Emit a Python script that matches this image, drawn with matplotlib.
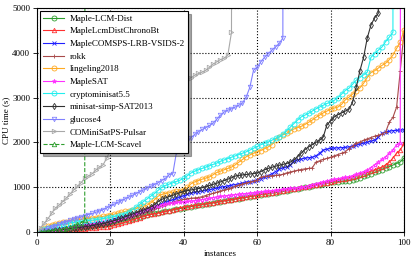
import numpy as np
import matplotlib
matplotlib.use("Agg")
import matplotlib.pyplot as plt

# CPU time (s) per solved instance, sorted; TIMEOUT marks the first unsolved one
TIMEOUT = 100000

lcm_dist = [
    8, 15, 22, 30, 38, 45, 52, 60, 70, 80,
    90, 100, 110, 120, 130, 140, 150, 160, 172, 190,
    205, 222, 240, 258, 275, 295, 315, 335, 358, 380,
    400, 418, 435, 450, 465, 480, 495, 510, 525, 540,
    555, 568, 580, 594, 608, 622, 636, 650, 665, 680,
    694, 708, 722, 735, 748, 762, 776, 790, 805, 820,
    832, 845, 858, 870, 882, 895, 908, 920, 935, 950,
    966, 982, 998, 1014, 1030, 1045, 1060, 1075, 1092, 1110,
    1118, 1126, 1134, 1142, 1150, 1165, 1185, 1210, 1240, 1270,
    1300, 1330, 1360, 1395, 1430, 1460, 1495, 1530, 1565, 1650,
]
chrono_bt = [
    3, 6, 10, 14, 18, 24, 30, 38, 46, 55,
    62, 70, 78, 86, 94, 100, 108, 115, 122, 130,
    150, 170, 195, 220, 245, 270, 295, 320, 350, 375,
    392, 405, 420, 440, 460, 480, 500, 520, 540, 555,
    570, 582, 594, 605, 618, 630, 643, 656, 670, 684,
    698, 712, 726, 740, 754, 768, 782, 796, 810, 825,
    838, 852, 866, 880, 894, 908, 922, 936, 950, 965,
    980, 995, 1010, 1025, 1040, 1055, 1070, 1085, 1100, 1115,
    1135, 1155, 1175, 1195, 1215, 1235, 1255, 1280, 1305, 1330,
    1360, 1390, 1420, 1450, 1500, 1560, 1650, 1760, 1830, 1980,
]
comsps_lrb = [
    10, 22, 35, 48, 60, 72, 84, 96, 108, 120,
    132, 145, 158, 170, 182, 195, 210, 228, 248, 270,
    292, 315, 338, 360, 385, 410, 435, 460, 490, 520,
    545, 570, 600, 630, 660, 690, 720, 750, 780, 810,
    840, 870, 885, 900, 915, 930, 945, 960, 980, 1000,
    1015, 1030, 1045, 1060, 1075, 1090, 1110, 1125, 1140, 1160,
    1190, 1220, 1260, 1300, 1350, 1400, 1430, 1450, 1500, 1580,
    1610, 1630, 1650, 1660, 1670, 1700, 1760, 1830, 1850, 1870,
    1875, 1880, 1885, 1890, 1900, 1920, 1940, 1960, 1985, 2010,
    2030, 2050, 2120, 2200, 2230, 2250, 2265, 2270, 2275, 2280,
]
rokk = [
    5, 12, 20, 28, 36, 44, 52, 60, 68, 76,
    85, 95, 105, 115, 125, 137, 150, 163, 178, 195,
    215, 238, 262, 286, 310, 335, 360, 390, 420, 450,
    480, 510, 545, 580, 610, 640, 665, 690, 712, 730,
    745, 755, 762, 770, 790, 815, 840, 865, 890, 915,
    940, 965, 990, 1020, 1050, 1075, 1095, 1115, 1135, 1160,
    1230, 1240, 1250, 1258, 1265, 1272, 1290, 1320, 1340, 1360,
    1380, 1395, 1410, 1420, 1430, 1560, 1590, 1620, 1645, 1670,
    1700, 1730, 1760, 1790, 1860, 1920, 1980, 2010, 2050, 2080,
    2110, 2140, 2160, 2190, 2230, 2450, 2560, 2790, 3600, 4450,
]
lingeling = [
    40, 90, 130, 160, 185, 205, 220, 235, 250, 262,
    272, 282, 292, 302, 312, 322, 335, 350, 365, 380,
    400, 420, 440, 460, 480, 500, 525, 550, 575, 600,
    650, 720, 800, 840, 860, 875, 890, 905, 920, 940,
    1000, 1080, 1120, 1150, 1180, 1205, 1230, 1280, 1330, 1360,
    1390, 1420, 1450, 1500, 1560, 1620, 1680, 1720, 1760, 1790,
    1820, 1860, 1900, 1950, 2060, 2130, 2170, 2200, 2260, 2300,
    2330, 2360, 2400, 2450, 2500, 2560, 2610, 2660, 2700, 2740,
    2770, 2790, 2850, 2950, 3010, 3080, 3150, 3220, 3320, 3450,
    3560, 3600, 3660, 3720, 3770, 3850, 3950, 4100, 4240, 4500,
]
maplesat = [
    10, 20, 30, 40, 50, 62, 75, 88, 100, 115,
    128, 142, 156, 170, 185, 200, 213, 225, 238, 250,
    270, 290, 315, 340, 365, 390, 420, 450, 480, 510,
    535, 560, 590, 610, 625, 640, 650, 660, 668, 675,
    682, 690, 700, 710, 725, 740, 755, 770, 782, 795,
    805, 815, 825, 835, 845, 852, 860, 868, 875, 885,
    895, 905, 915, 925, 935, 945, 955, 965, 972, 980,
    990, 1000, 1015, 1035, 1060, 1080, 1100, 1120, 1140, 1160,
    1175, 1190, 1205, 1220, 1235, 1260, 1290, 1320, 1350, 1380,
    1440, 1500, 1560, 1620, 1680, 1760, 1830, 1950, 1990, TIMEOUT,
]
cryptominisat = [
    30, 60, 90, 115, 140, 160, 175, 190, 205, 215,
    225, 235, 245, 255, 265, 275, 288, 300, 315, 330,
    345, 360, 380, 410, 450, 500, 560, 620, 680, 740,
    800, 860, 930, 1000, 1040, 1070, 1100, 1130, 1160, 1200,
    1260, 1320, 1360, 1390, 1420, 1450, 1480, 1510, 1540, 1580,
    1610, 1640, 1670, 1700, 1730, 1760, 1790, 1830, 1870, 1910,
    1950, 1980, 2010, 2050, 2090, 2120, 2180, 2260, 2340, 2420,
    2500, 2570, 2610, 2650, 2700, 2750, 2790, 2830, 2870, 2900,
    2940, 3000, 3080, 3160, 3210, 3300, 3390, 3450, 3510, 3570,
    3900, 3980, 4060, 4130, 4250, 4350, 4460, TIMEOUT,
]
minisat = [
    5, 12, 20, 28, 36, 45, 55, 65, 75, 85,
    95, 105, 118, 130, 145, 160, 175, 190, 208, 230,
    255, 280, 310, 340, 370, 400, 430, 460, 490, 520,
    560, 610, 680, 730, 760, 790, 820, 850, 880, 905,
    925, 940, 955, 970, 990, 1015, 1040, 1065, 1090, 1120,
    1150, 1180, 1210, 1250, 1265, 1275, 1285, 1295, 1305, 1320,
    1350, 1390, 1420, 1445, 1470, 1490, 1510, 1530, 1560, 1610,
    1680, 1760, 1840, 1900, 1950, 2000, 2050, 2120, 2390, 2480,
    2570, 2620, 2660, 2700, 2740, 2900, 3230, 3600, 3900, 4330,
    4620, 4780, 4880, TIMEOUT,
]
glucose = [
    20, 50, 80, 110, 140, 170, 200, 230, 260, 290,
    315, 340, 365, 390, 415, 440, 470, 500, 540, 580,
    620, 660, 700, 740, 780, 820, 860, 900, 940, 980,
    1020, 1060, 1100, 1150, 1200, 1280, 1300, 1780, 1850, 1960,
    2040, 2110, 2180, 2240, 2290, 2330, 2380, 2430, 2520, 2610,
    2680, 2720, 2750, 2790, 2830, 2880, 3010, 3230, 3610, 3680,
    3800, 3900, 3980, 4060, 4130, 4210, 4330, TIMEOUT,
]
pulsar = [
    100, 200, 300, 420, 535, 600, 680, 760, 850, 940,
    1020, 1100, 1200, 1250, 1300, 1380, 1450, 1500, 1650, 1830,
    1950, 2000, 2050, 2100, 2150, 2230, 2300, 2380, 2450, 2520,
    2590, 2660, 2730, 2800, 2870, 2940, 3010, 3080, 3130, 3170,
    3390, 3450, 3500, 3540, 3570, 3610, 3680, 3750, 3800, 3850,
    3880, 3950, 4460, TIMEOUT,
]
scavel = [5, 12, 20, 30, 42, 55, 70, 90, 110, 140, 170, 210, 260, TIMEOUT]

solvers = [
    ("Maple-LCM-Dist", lcm_dist, "#2e9e2e", "o", "-"),
    ("MapleLcmDistChronoBt", chrono_bt, "#ff3030", "^", "-"),
    ("MapleCOMSPS-LRB-VSIDS-2", comsps_lrb, "#2020ff", "x", "-"),
    ("rokk", rokk, "#a84a4a", "+", "-"),
    ("lingeling2018", lingeling, "#ffaa22", "o", "-"),
    ("MapleSAT", maplesat, "#ff30ff", "*", "-"),
    ("cryptominisat5.5", cryptominisat, "#22eeee", "o", "-"),
    ("minisat-simp-SAT2013", minisat, "#303030", "d", "-"),
    ("glucose4", glucose, "#8080ff", "v", "-"),
    ("COMiniSatPS-Pulsar", pulsar, "#a8a8a8", ">", "-"),
    ("Maple-LCM-Scavel", scavel, "#2e9e2e", "^", "--"),
]

plt.rcParams["font.family"] = ["Liberation Serif", "DejaVu Serif"]
plt.rcParams["font.size"] = 6.5

fig = plt.figure(figsize=(4.16, 2.61), dpi=100)
ax = fig.add_axes([0.089, 0.111, 0.882, 0.858])

for name, times, color, marker, ls in solvers:
    x = np.arange(1, len(times) + 1)
    ms = 3.6 if marker == "o" else 3.2
    ax.plot(x, times, ls, color=color, marker=marker, markersize=ms,
            markerfacecolor="none", markeredgewidth=0.6, linewidth=0.8,
            label=name)

ax.set_xlim(0, 100)
ax.set_ylim(0, 5000)
ax.set_xticks(range(0, 101, 20))
ax.set_yticks(range(0, 5001, 1000))
ax.grid(True, color="black", linestyle=":", linewidth=0.8)
ax.tick_params(labelsize=6.5, length=3, width=0.6, pad=2)
for s in ax.spines.values():
    s.set_linewidth(0.8)
ax.set_xlabel("instances", fontsize=6.5, labelpad=2)
ax.set_ylabel("CPU time (s)", fontsize=6.5)
ax.yaxis.set_label_coords(-0.072, 0.5)

leg = ax.legend(loc="upper left", fontsize=6.5, frameon=True, shadow=True,
                fancybox=False, edgecolor="black", framealpha=1,
                handlelength=2.3, handletextpad=0.6, labelspacing=0.48,
                borderpad=0.4, borderaxespad=0.3)
leg.get_frame().set_linewidth(0.8)

fig.savefig("out.png", dpi=100)
